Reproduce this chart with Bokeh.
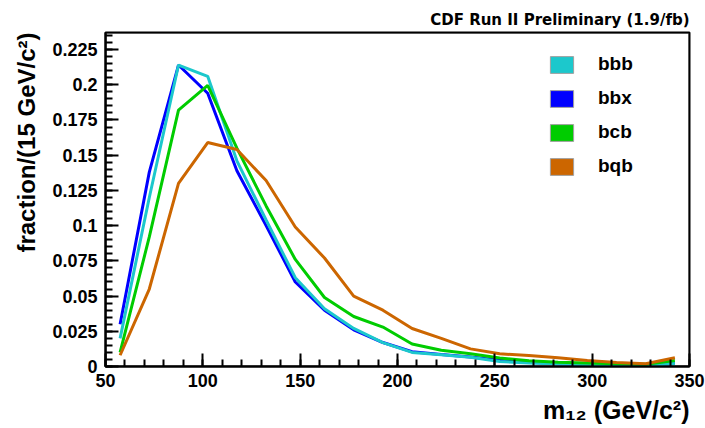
import math
from bokeh.plotting import figure
from bokeh.models import Range1d, FixedTicker, Legend, LegendItem, Title, BoxAnnotation
from bokeh.embed import file_html
from bokeh.resources import INLINE

# ---- data ----
m12 = [57.5, 72.5, 87.5, 102.5, 117.5, 132.5, 147.5, 162.5, 177.5, 192.5,
       207.5, 222.5, 237.5, 252.5, 267.5, 282.5, 297.5, 312.5, 327.5, 342.5]
bbb = [0.020, 0.120, 0.214, 0.206, 0.146, 0.104, 0.063, 0.041, 0.027, 0.017,
       0.010, 0.0083, 0.0066, 0.0035, 0.0025, 0.0018, 0.0014, 0.0010, 0.0005, 0.0022]
bbx = [0.030, 0.138, 0.214, 0.194, 0.139, 0.100, 0.060, 0.040, 0.026, 0.017,
       0.0105, 0.0085, 0.0068, 0.0045, 0.0030, 0.0020, 0.0015, 0.0012, 0.0008, 0.0022]
bcb = [0.010, 0.092, 0.182, 0.1995, 0.155, 0.114, 0.076, 0.049, 0.0355, 0.028,
       0.016, 0.0115, 0.009, 0.006, 0.004, 0.003, 0.0024, 0.002, 0.0016, 0.0043]
bqb = [0.008, 0.055, 0.130, 0.159, 0.154, 0.132, 0.099, 0.077, 0.050, 0.040,
       0.027, 0.020, 0.0125, 0.009, 0.0078, 0.0062, 0.0043, 0.0028, 0.0019, 0.0062]

series_names = ["bbb", "bbx", "bcb", "bqb"]
series_colors = ["#1cc8cc", "#0000ff", "#00cc00", "#cc6600"]
series_values = [bbb, bbx, bcb, bqb]

x_ticks = [50, 100, 150, 200, 250, 300, 350]
y_ticks = [0, 0.025, 0.05, 0.075, 0.1, 0.125, 0.15, 0.175, 0.2, 0.225]
y_tick_labels = ["0", "0.025", "0.05", "0.075", "0.1", "0.125", "0.15", "0.175", "0.2", "0.225"]

title_text = "CDF Run II Preliminary (1.9/fb)"
x_title = "m\u2081\u2082 (GeV/c\u00b2)"
y_title = "fraction/(15 GeV/c\u00b2)"

FONT = "Liberation Sans"

p = figure(width=705, height=428, output_backend="svg", toolbar_location=None,
           x_range=Range1d(50, 350), y_range=Range1d(0, 0.2371),
           min_border_left=104, min_border_right=16, min_border_top=32, min_border_bottom=62)
p.xgrid.visible = False
p.ygrid.visible = False
p.outline_line_color = "black"
p.outline_line_width = 2
p.background_fill_color = "white"
p.border_fill_color = "white"

# axes
p.xaxis.ticker = FixedTicker(ticks=x_ticks, minor_ticks=[50 + 10 * i for i in range(31)])
p.yaxis.ticker = FixedTicker(ticks=y_ticks, minor_ticks=[0.005 * i for i in range(48)])
p.yaxis.major_label_overrides = {t: s for t, s in zip(y_ticks, y_tick_labels)}
for ax in (p.xaxis[0], p.yaxis[0]):
    ax.axis_line_width = 2
    ax.axis_line_color = "black"
    ax.major_tick_in = 13
    ax.major_tick_out = 0
    ax.minor_tick_in = 7
    ax.minor_tick_out = 0
    ax.major_tick_line_width = 2
    ax.minor_tick_line_width = 2
    ax.major_tick_line_color = "black"
    ax.minor_tick_line_color = "black"
    ax.major_label_text_font = FONT
    ax.major_label_text_font_style = "bold"
    ax.major_label_text_font_size = "18px"
    ax.major_label_text_color = "black"
p.xaxis.major_label_standoff = 7
p.yaxis.major_label_standoff = 8

# frame border (top/right edges)
p.add_layout(BoxAnnotation(fill_alpha=0, line_color="black", line_width=3))

# lines
draw_order = [1, 0, 2, 3]
for i in draw_order:
    p.line(m12, series_values[i], line_color=series_colors[i], line_width=3)

# legend with filled boxes (renderers hold one NaN row so nothing is drawn in the plot)
items = []
nan = float("nan")
for name, col in zip(series_names, series_colors):
    r = p.quad(left=[nan], right=[nan], top=[nan], bottom=[nan],
               fill_color=col, line_color="#a0a0a0", line_width=1)
    items.append(LegendItem(label=name, renderers=[r]))
leg = Legend(items=items, location=(442, 189), glyph_width=29, glyph_height=21,
             label_height=21, spacing=12, label_standoff=22, padding=0, margin=0,
             border_line_color=None, background_fill_alpha=0,
             label_text_font=FONT, label_text_font_style="bold", label_text_font_size="19px",
             label_text_color="black")
p.add_layout(leg)

# titles
p.add_layout(Title(text=title_text, align="right", text_font="DejaVu Sans", text_font_style="bold",
                   text_font_size="15px", text_color="black", standoff=8), "above")
p.add_layout(Title(text=y_title, align="right", offset=0, text_font=FONT, text_font_style="bold",
                   text_font_size="24px", text_color="black", standoff=20), "left")
p.add_layout(Title(text=x_title, align="right", text_font=FONT, text_font_style="bold",
                   text_font_size="25px", text_color="black", standoff=8), "below")

open("out.html", "w").write(file_html(p, INLINE))
